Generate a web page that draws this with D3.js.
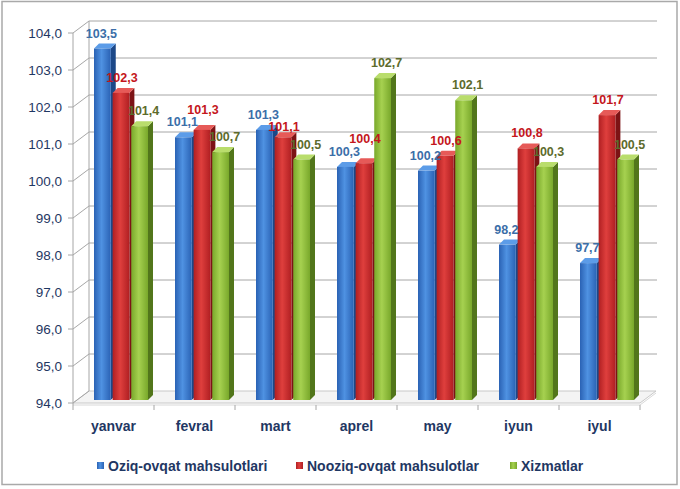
<!DOCTYPE html>
<html><head><meta charset="utf-8">
<script src="https://cdn.jsdelivr.net/npm/d3@7"></script>
<style>html,body{margin:0;padding:0;background:#fff;}svg{display:block;font-family:"Liberation Sans",Arial,sans-serif;}</style>
</head><body><svg id="c" width="680" height="489"></svg>
<script>
const categories = ["yanvar","fevral","mart","aprel","may","iyun","iyul"];
const seriesNames = ["Oziq-ovqat mahsulotlari","Nooziq-ovqat mahsulotlar","Xizmatlar"];
const oziq = [103.5,101.1,101.3,100.3,100.2,98.2,97.7];
const nooziq = [102.3,101.3,101.1,100.4,100.6,100.8,101.7];
const xizmat = [101.4,100.7,100.5,102.7,102.1,100.3,100.5];
const yTicks = [94,95,96,97,98,99,100,101,102,103,104];

const seriesVals = [oziq, nooziq, xizmat];
const pal = [
  {f0:"#2a62b4",f1:"#4f92e2",side:"#1c4888",top:"#5c9ce8",lab:"#3b6ea8"},
  {f0:"#b01f22",f1:"#df3f3d",side:"#7c1315",top:"#e65a58",lab:"#c4161c"},
  {f0:"#79a82b",f1:"#a6d150",side:"#52761b",top:"#b9dd6c",lab:"#5d6b2c"}
];
const labShift = [-1, 1, 4];
const svg = d3.select("#c");
const defs = svg.append("defs");
pal.forEach((p,i)=>{
  const g = defs.append("linearGradient").attr("id","g"+i).attr("x1","0").attr("x2","1").attr("y1","0").attr("y2","0");
  g.append("stop").attr("offset","0").attr("stop-color",p.f0);
  g.append("stop").attr("offset","0.45").attr("stop-color",p.f1);
  g.append("stop").attr("offset","1").attr("stop-color",p.f0);
});
const fmt = v => d3.format(".1f")(v).replace(".",",");

// frame
svg.append("rect").attr("x",2).attr("y",1.5).attr("width",675).attr("height",483)
  .attr("fill","#fff").attr("stroke","#a9a9a9").attr("stroke-width",1.5);

const X0 = 73, X1 = 640, DX = 16, DY = -12;
const y = d3.scaleLinear().domain([94,104]).range([403,33]);
const x = d3.scaleBand().domain(categories).range([X0,X1]);
const xs = d3.scaleBand().domain([0,1,2]).range([18,72]).paddingInner(0.1);

const gridC = "#a6a6a6";
// floor
svg.append("path").attr("d",`M${X0},${y(94)}L${X1},${y(94)}L${X1+DX},${y(94)+DY}L${X0+DX},${y(94)+DY}Z`)
  .attr("fill","#f4f4f4").attr("stroke","#c8c8c8").attr("stroke-width",1);
svg.append("path").attr("d",`M${X0},${y(94)+2}L${X1},${y(94)+2}L${X1+DX},${y(94)+DY+2}`)
  .attr("fill","none").attr("stroke","#d8d8d8").attr("stroke-width",1);
// back wall grid
yTicks.forEach(t=>{
  if(t>94) svg.append("line").attr("x1",X0+DX).attr("x2",X1+DX+1).attr("y1",y(t)+DY).attr("y2",y(t)+DY)
    .attr("stroke",gridC).attr("stroke-width",1);
  svg.append("line").attr("x1",X0).attr("x2",X0+DX).attr("y1",y(t)).attr("y2",y(t)+DY)
    .attr("stroke",gridC).attr("stroke-width",1);
  svg.append("line").attr("x1",X0-5).attr("x2",X0).attr("y1",y(t)).attr("y2",y(t))
    .attr("stroke",gridC).attr("stroke-width",1);
  svg.append("text").attr("x",62).attr("y",y(t)+5).attr("text-anchor","end")
    .attr("font-size",13.5).attr("fill","#1f3763").text(fmt(t));
});
svg.append("line").attr("x1",X0+DX).attr("x2",X0+DX).attr("y1",y(104)+DY).attr("y2",y(94)+DY).attr("stroke",gridC);
svg.append("line").attr("x1",X0).attr("x2",X0).attr("y1",y(104)).attr("y2",y(94)+2).attr("stroke",gridC);
// x ticks
categories.concat([null]).forEach((c,i)=>{
  const xx = c ? x(c) : X1;
  svg.append("line").attr("x1",xx).attr("x2",xx).attr("y1",y(94)+2).attr("y2",y(94)+7).attr("stroke",gridC);
});

// bars
const bd = 5, off = 3, LW = 31, LH = 12.5;
categories.forEach((c,ci)=>{
  seriesVals.forEach((vals,si)=>{
    const v = vals[ci], p = pal[si];
    const bx = x(c) + xs(si) + off, bw = xs.bandwidth();
    const by0 = y(94) - off, by1 = y(v) - off;
    const g = svg.append("g");
    g.append("path").attr("d",`M${bx+bw},${by1}L${bx+bw+bd},${by1-bd}L${bx+bw+bd},${by0-bd}L${bx+bw},${by0}Z`).attr("fill",p.side);
    g.append("path").attr("d",`M${bx},${by1}L${bx+bd},${by1-bd}L${bx+bw+bd},${by1-bd}L${bx+bw},${by1}Z`).attr("fill",p.top);
    g.append("rect").attr("x",bx).attr("y",by1).attr("width",bw).attr("height",by0-by1).attr("fill",`url(#g${si})`);
  });
  // labels with simple collision avoidance
  const labs = seriesVals.map((vals,si)=>{
    const v = vals[ci];
    const bx = x(c) + xs(si) + off, bw = xs.bandwidth();
    return {si, v, cx: bx+bw/2+labShift[si], by: y(v)-off-bd-6};
  });
  for(let i=1;i<labs.length;i++){
    for(let j=0;j<i;j++){
      const a = labs[j], b = labs[i];
      if(Math.abs(a.cx-b.cx) < LW && Math.abs(a.by-b.by) < LH){
        b.by = (b.by <= a.by) ? a.by - LH : a.by + LH;
      }
    }
  }
  labs.forEach(l=>{
    svg.append("text").attr("x",l.cx).attr("y",l.by).attr("text-anchor","middle")
      .attr("font-size",12.5).attr("font-weight","bold").attr("fill",pal[l.si].lab).text(fmt(l.v));
  });
  svg.append("text").attr("x",x(c)+x.bandwidth()/2).attr("y",431).attr("text-anchor","middle")
    .attr("font-size",14).attr("font-weight","bold").attr("fill","#1f3763").text(c);
});

// legend
const legX = [97, 296, 510];
seriesNames.forEach((n,i)=>{
  svg.append("rect").attr("x",legX[i]).attr("y",462).attr("width",7).attr("height",7).attr("fill",`url(#g${i})`);
  svg.append("text").attr("x",legX[i]+11).attr("y",471).attr("font-size",14).attr("font-weight","bold")
    .attr("fill","#1f3763").text(n);
});
</script></body></html>
